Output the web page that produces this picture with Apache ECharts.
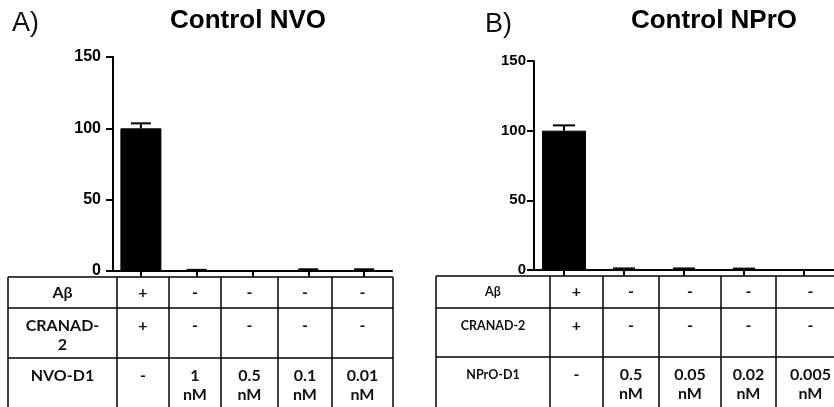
<!DOCTYPE html>
<html>
<head>
<meta charset="utf-8">
<script src="https://cdn.jsdelivr.net/npm/echarts@6/dist/echarts.min.js"></script>
<style>
  html, body { margin: 0; padding: 0; background: #fff; }
  #chart { width: 834px; height: 407px; }
</style>
</head>
<body>
<div id="chart"></div>
<script>
// ---- data ----
const groupsA = ['G1', 'G2', 'G3', 'G4', 'G5'];
const valuesA = [100, 0.2, 0, 0.5, 0.5];
const errorsA = [3.5, 0.6, 0, 0.7, 0.7];

const groupsB = ['G1', 'G2', 'G3', 'G4', 'G5'];
const valuesB = [100, 0.3, 0.3, 0.2, 0];
const errorsB = [3.8, 0.8, 0.8, 0.8, 0];

const yTicks = [0, 50, 100, 150];

const titleA = 'Control NVO';
const titleB = 'Control NPrO';

const rowLabelsA = ['Aβ', 'CRANAD-\n2', 'NVO-D1'];
const abetaA = ['+', '-', '-', '-', '-'];
const cranadA = ['+', '-', '-', '-', '-'];
const doseA = ['-', '1\nnM', '0.5\nnM', '0.1\nnM', '0.01\nnM'];

const rowLabelsB = ['Aβ', 'CRANAD-2', 'NPrO-D1'];
const abetaB = ['+', '-', '-', '-', '-'];
const cranadB = ['+', '-', '-', '-', '-'];
const doseB = ['-', '0.5\nnM', '0.05\nnM', '0.02\nnM', '0.005\nnM'];

// ---- layout ----
const tableA = { cols: [8, 117, 169, 221, 278, 332, 393], rows: [277, 308, 358, 415], labelSize: 16, cellSize: 16 };
const tableB = { cols: [436, 550, 603, 659, 721, 776, 845], rows: [276, 308, 357, 415], labelSize: 12.5, cellSize: 16 };
const tableFont = 'Lato, "Open Sans", sans-serif';

function tableGraphics(t, labels, rowsData) {
  const els = [];
  const ln = { stroke: '#000', lineWidth: 1.5 };
  // horizontal rules
  t.rows.forEach(y => {
    els.push({ type: 'line', shape: { x1: t.cols[0], y1: y, x2: t.cols[t.cols.length - 1], y2: y }, style: ln, silent: true });
  });
  // vertical rules
  t.cols.forEach(x => {
    els.push({ type: 'line', shape: { x1: x, y1: t.rows[0], x2: x, y2: t.rows[t.rows.length - 1] }, style: ln, silent: true });
  });
  for (let r = 0; r < 3; r++) {
    const top = t.rows[r];
    const single = r === 0;
    const yPos = single ? (t.rows[0] + t.rows[1]) / 2 : top + 8;
    const va = single ? 'middle' : 'top';
    // row label
    els.push({
      type: 'text', silent: true,
      style: {
        x: (t.cols[0] + t.cols[1]) / 2, y: yPos, text: labels[r],
        align: 'center', verticalAlign: va, lineHeight: 19,
        font: 'bold ' + t.labelSize + 'px ' + tableFont, fill: '#111'
      }
    });
    rowsData[r].forEach((txt, c) => {
      els.push({
        type: 'text', silent: true,
        style: {
          x: (t.cols[c + 1] + t.cols[c + 2]) / 2, y: yPos, text: txt,
          align: 'center', verticalAlign: va, lineHeight: 19,
          font: 'bold ' + t.cellSize + 'px ' + tableFont, fill: '#111'
        }
      });
    });
  }
  return els;
}

function errorSeries(name, xIdx, yIdx, vals, errs, capHalf) {
  return {
    type: 'custom', name: name, xAxisIndex: xIdx, yAxisIndex: yIdx, z: 3,
    data: vals.map((v, i) => [i, v, v + errs[i]]),
    renderItem: function (params, api) {
      const i = api.value(0);
      const lo = api.coord([i, api.value(1)]);
      const hi = api.coord([i, api.value(2)]);
      if (api.value(2) <= api.value(1)) return null;
      const st = { stroke: '#000', lineWidth: 2 };
      return {
        type: 'group',
        children: [
          { type: 'line', shape: { x1: lo[0], y1: lo[1], x2: hi[0], y2: hi[1] }, style: st },
          { type: 'line', shape: { x1: hi[0] - capHalf, y1: hi[1], x2: hi[0] + capHalf, y2: hi[1] }, style: st }
        ]
      };
    }
  };
}

const axisFont = '"Liberation Sans", Arial, sans-serif';

function yAxis(gridIndex, fontSize, margin) {
  return {
    type: 'value', gridIndex: gridIndex, min: 0, max: 150, interval: 50,
    splitLine: { show: false },
    axisLine: { show: true, lineStyle: { color: '#000', width: 2 } },
    axisTick: { show: true, length: 7, lineStyle: { color: '#000', width: 2 } },
    axisLabel: {
      margin: margin, color: '#000', fontWeight: 'bold', fontSize: fontSize, fontFamily: axisFont,
      formatter: v => (yTicks.indexOf(v) >= 0 ? String(v) : '')
    }
  };
}

function xAxis(gridIndex, cats) {
  return {
    type: 'category', gridIndex: gridIndex, data: cats, boundaryGap: true,
    axisLine: { show: true, lineStyle: { color: '#000', width: 2 } },
    axisTick: { show: true, alignWithLabel: true, length: 6, lineStyle: { color: '#000', width: 2 } },
    axisLabel: { show: false },
    splitLine: { show: false }
  };
}

const chart = echarts.init(document.getElementById('chart'), null, { renderer: 'canvas' });

const option = {
  backgroundColor: '#fff',
  animation: false,
  grid: [
    { left: 113, top: 57, width: 279, height: 214 },
    { left: 534, top: 61, width: 314.5, height: 209 }
  ],
  xAxis: [xAxis(0, groupsA), xAxis(1, groupsB)],
  yAxis: [yAxis(0, 16, 12), yAxis(1, 15, 8)],
  series: [
    {
      type: 'bar', xAxisIndex: 0, yAxisIndex: 0, data: valuesA, barWidth: 41,
      itemStyle: { color: '#000', borderColor: '#000', borderWidth: 1 }
    },
    errorSeries('errA', 0, 0, valuesA, errorsA, 10),
    {
      type: 'bar', xAxisIndex: 1, yAxisIndex: 1, data: valuesB, barWidth: 44,
      itemStyle: { color: '#000', borderColor: '#000', borderWidth: 1 }
    },
    errorSeries('errB', 1, 1, valuesB, errorsB, 11)
  ],
  graphic: [
    { type: 'text', silent: true, style: { x: 12, y: 24, text: 'A)', align: 'left', verticalAlign: 'middle', font: '27px ' + axisFont, fill: '#111' } },
    { type: 'text', silent: true, style: { x: 485, y: 25, text: 'B)', align: 'left', verticalAlign: 'middle', font: '27px ' + axisFont, fill: '#111' } },
    { type: 'text', silent: true, style: { x: 248, y: 21, text: titleA, align: 'center', verticalAlign: 'middle', font: 'bold 26px ' + axisFont, fill: '#000' } },
    { type: 'text', silent: true, style: { x: 714, y: 21, text: titleB, align: 'center', verticalAlign: 'middle', font: 'bold 26px ' + axisFont, fill: '#000' } }
  ]
    .concat(tableGraphics(tableA, rowLabelsA, [abetaA, cranadA, doseA]))
    .concat(tableGraphics(tableB, rowLabelsB, [abetaB, cranadB, doseB]))
};

chart.setOption(option);
</script>
</body>
</html>
